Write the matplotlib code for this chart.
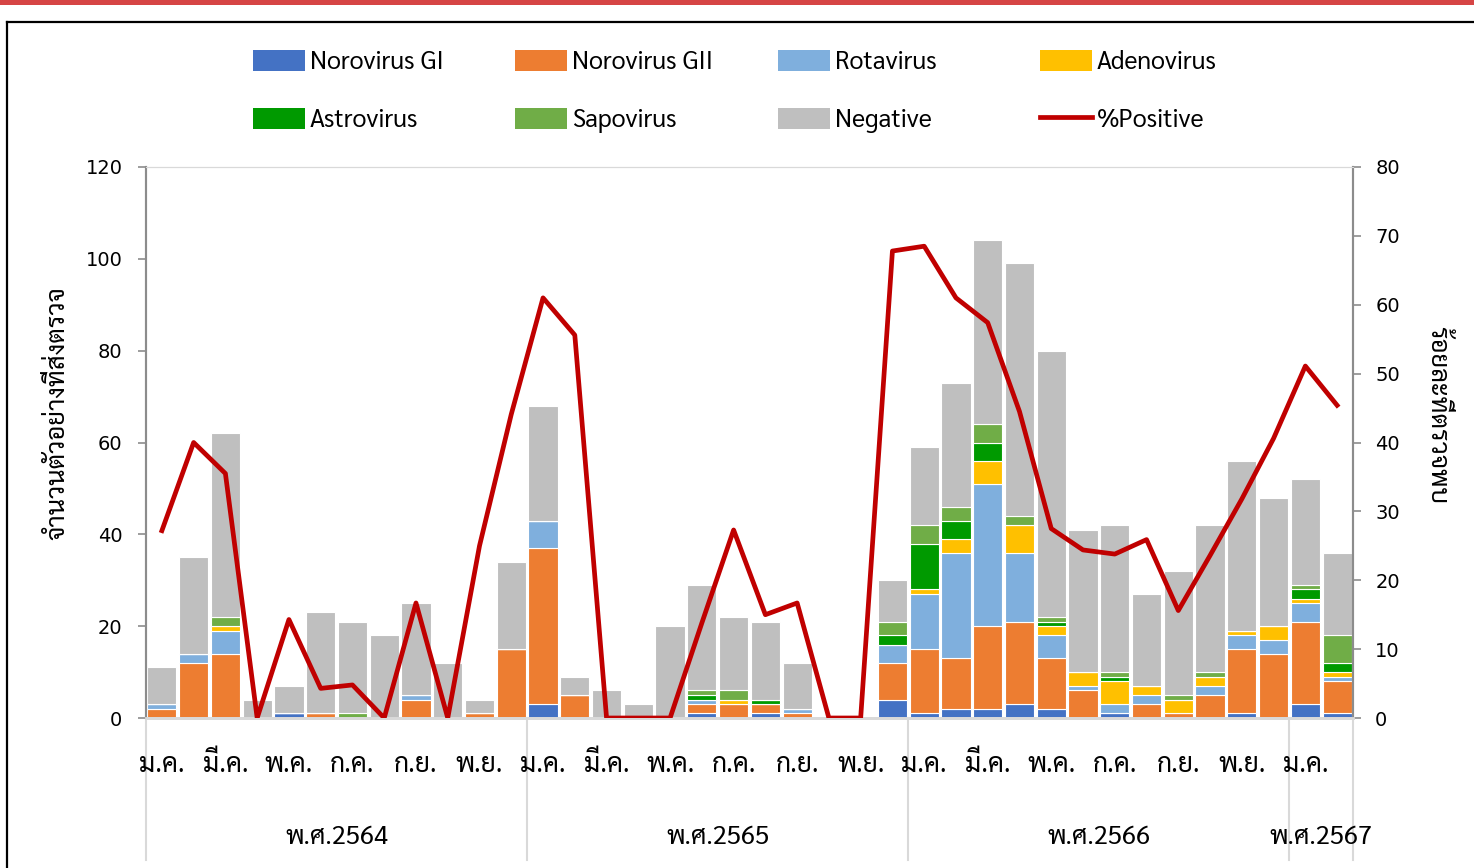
import matplotlib
matplotlib.use("Agg")
import matplotlib.pyplot as plt
import matplotlib.transforms as mtransforms
from matplotlib import font_manager
from matplotlib.patches import Patch, Rectangle
from matplotlib.lines import Line2D
import numpy as np

# ข้อมูลรายเดือน ม.ค. 2564 - ก.พ. 2567 (38 เดือน)
month_labels = ['ม.ค.', 'มี.ค.', 'พ.ค.', 'ก.ค.', 'ก.ย.', 'พ.ย.'] * 3 + ['ม.ค.']
year_labels = ['พ.ศ.2564', 'พ.ศ.2565', 'พ.ศ.2566', 'พ.ศ.2567']
year_first = [0, 12, 24, 36]

noro_gi = [0, 0, 0, 0, 1, 0, 0, 0, 0, 0, 0, 0,
           3, 0, 0, 0, 0, 1, 0, 1, 0, 0, 0, 4,
           1, 2, 2, 3, 2, 0, 1, 0, 0, 0, 1, 0,
           3, 1]
noro_gii = [2, 12, 14, 0, 0, 1, 0, 0, 4, 0, 1, 15,
            34, 5, 0, 0, 0, 2, 3, 2, 1, 0, 0, 8,
            14, 11, 18, 18, 11, 6, 0, 3, 1, 5, 14, 14,
            18, 7]
rota = [1, 2, 5, 0, 0, 0, 0, 0, 1, 0, 0, 0,
        6, 0, 0, 0, 0, 1, 0, 0, 1, 0, 0, 4,
        12, 23, 31, 15, 5, 1, 2, 2, 0, 2, 3, 3,
        4, 1]
adeno = [0, 0, 1, 0, 0, 0, 0, 0, 0, 0, 0, 0,
         0, 0, 0, 0, 0, 0, 1, 0, 0, 0, 0, 0,
         1, 3, 5, 6, 2, 3, 5, 2, 3, 2, 1, 3,
         1, 1]
astro = [0, 0, 0, 0, 0, 0, 0, 0, 0, 0, 0, 0,
         0, 0, 0, 0, 0, 1, 0, 1, 0, 0, 0, 2,
         10, 4, 4, 0, 1, 0, 1, 0, 0, 0, 0, 0,
         2, 2]
sapo = [0, 0, 2, 0, 0, 0, 1, 0, 0, 0, 0, 0,
        0, 0, 0, 0, 0, 1, 2, 0, 0, 0, 0, 3,
        4, 3, 4, 2, 1, 0, 1, 0, 1, 1, 0, 0,
        1, 6]
negative = [8, 21, 40, 4, 6, 22, 20, 18, 20, 12, 3, 19,
            25, 4, 6, 3, 20, 23, 16, 17, 10, 0, 0, 9,
            17, 27, 40, 55, 58, 31, 32, 20, 27, 32, 37, 28,
            23, 18]
pct_positive = [27.2, 40.0, 35.5, 0, 14.3, 4.3, 4.8, 0, 16.7, 0, 25.0, 44.1,
                61.0, 55.6, 0, 0, 0, 13.8, 27.3, 15.0, 16.7, 0, 0, 67.8,
                68.5, 61.0, 57.4, 44.5, 27.5, 24.4, 23.8, 25.9, 15.6, 23.6, 31.8, 40.6,
                51.1, 45.4]

series = [('Norovirus GI', noro_gi, '#4472C4'),
          ('Norovirus GII', noro_gii, '#ED7D31'),
          ('Rotavirus', rota, '#7FAFDD'),
          ('Adenovirus', adeno, '#FFC000'),
          ('Astrovirus', astro, '#009A00'),
          ('Sapovirus', sapo, '#70AD47'),
          ('Negative', negative, '#BFBFBF')]
line_color = '#C00000'

# หาฟอนต์ที่มีอักษรไทย
names = {f.name for f in font_manager.fontManager.ttflist}
thai_font = next((n for n in ['Sarabun', 'Noto Sans Thai Looped', 'Noto Sans Thai', 'Anuphan']
                  if n in names), 'DejaVu Sans')
plt.rcParams['font.family'] = [thai_font, 'DejaVu Sans']

W, H = 1474, 868
fig = plt.figure(figsize=(W / 100, H / 100), dpi=100)
ax = fig.add_axes([146 / W, 1 - 718 / H, (1353 - 146) / W, (718 - 167) / H])

x = np.arange(len(negative))
bottom = np.zeros(len(x))
handles = []
for name, vals, col in series:
    ax.bar(x, vals, width=0.92, bottom=bottom, color=col, edgecolor='white', linewidth=0.8, zorder=2)
    bottom += np.array(vals)
    handles.append(Patch(facecolor=col, edgecolor='none', label=name))

ax.set_xlim(-0.5, len(x) - 0.5)
ax.set_ylim(0, 120)
ax.set_yticks(range(0, 121, 20))
ax.set_xticks([])
ax.tick_params(axis='y', direction='out', length=6, width=1.2, color='#8C8C8C', pad=11,
               labelsize=14, labelfontfamily='DejaVu Sans')

ax2 = ax.twinx()
ax2.plot(x, pct_positive, color=line_color, lw=3.4, zorder=5)
ax2.set_ylim(0, 80)
ax2.set_yticks(range(0, 81, 10))
ax2.tick_params(axis='y', direction='out', length=6, width=1.2, color='#8C8C8C', pad=10,
                labelsize=14, labelfontfamily='DejaVu Sans')
handles.append(Line2D([0], [0], color=line_color, lw=3.4, label='%Positive'))

for a in (ax, ax2):
    a.spines['left'].set_color('#8C8C8C')
    a.spines['right'].set_color('#8C8C8C')
    a.spines['left'].set_linewidth(1.5)
    a.spines['right'].set_linewidth(1.5)
    a.spines['top'].set_color('#D9D9D9')
    a.spines['bottom'].set_color('#D9D9D9')
    a.spines['bottom'].set_linewidth(2)

# แกน x แบบสองชั้น: เดือน / ปี
trans = mtransforms.blended_transform_factory(ax.transData, ax.transAxes)
for i, lab in enumerate(month_labels):
    ax.text(2 * i, -0.085, lab, transform=trans, ha='center', va='center', fontsize=19)
bounds = year_first[1:] + [len(x)]
for lab, s, e in zip(year_labels, year_first, bounds):
    ax.text((s + e - 1) / 2, -0.217, lab, transform=trans, ha='center', va='center', fontsize=18.5)
for b in [-0.5] + [s - 0.5 for s in year_first[1:]] + [len(x) - 0.5]:
    ax.plot([b, b], [0, -0.258], transform=trans, color='#D9D9D9', lw=1.5, clip_on=False)

fig.text(58 / W, 1 - 413 / H, 'จำนวนตัวอย่างที่ส่งตรวจ', rotation=90, ha='center', va='center', fontsize=18.5)
fig.text(1437 / W, 1 - 415 / H, 'ร้อยละที่ตรวจพบ', rotation=270, ha='center', va='center', fontsize=18.5)

# legend 4 คอลัมน์ x 2 แถว
col_x = [253, 515, 778, 1040]
for c in range(4):
    fig.legend(handles=[handles[c], handles[c + 4]], loc='upper left',
               bbox_to_anchor=(col_x[c] / W, 1 - 50 / H), frameon=False, fontsize=18,
               handlelength=2.08, handleheight=0.92, handletextpad=0.2,
               labelspacing=1.3, borderpad=0, borderaxespad=0)

# แถบแดงด้านบนและกรอบ
fig.add_artist(Rectangle((0, 1 - 5 / H), 1, 5 / H, transform=fig.transFigure, color='#D64545', lw=0))
fig.add_artist(Line2D([7 / W, 7 / W], [0, 1 - 22 / H], transform=fig.transFigure, color='black', lw=1.6))
fig.add_artist(Line2D([7 / W, 1], [1 - 22 / H, 1 - 22 / H], transform=fig.transFigure, color='black', lw=1.6))

fig.savefig('out.png', dpi=100)
